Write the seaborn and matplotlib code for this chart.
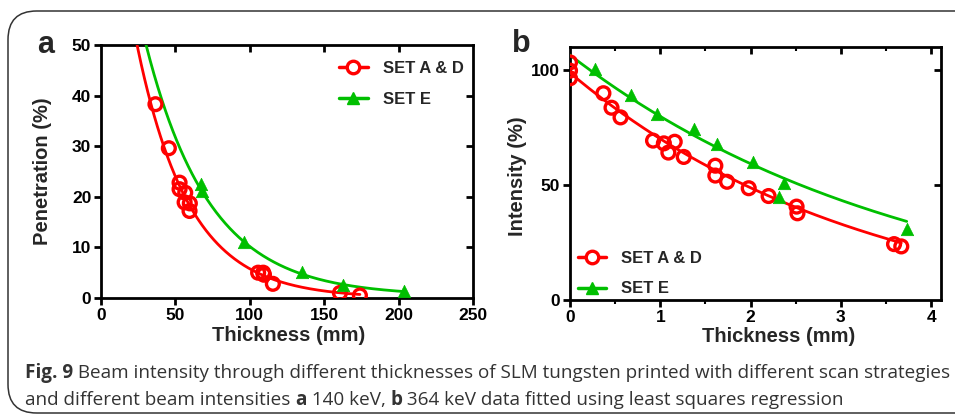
#!/usr/bin/env python3
"""Fig. 9 - beam intensity through SLM tungsten, fitted exponential decays."""

import numpy as np
import pandas as pd
import seaborn as sns
import matplotlib

matplotlib.use("Agg")
import matplotlib.pyplot as plt
import matplotlib.lines as mlines
from matplotlib import font_manager
from matplotlib.lines import Line2D
from matplotlib.patches import FancyBboxPatch

# panel a: 140 keV
a_ad_thick = [36.6, 45.6, 52.8, 52.8, 56.6, 56.2, 59.7, 59.5, 105.6, 109.0, 109.5, 115.5, 160.6, 174.0]
a_ad_pen = [38.3, 29.6, 22.8, 21.5, 20.8, 18.9, 18.7, 17.2, 5.0, 5.0, 4.6, 2.8, 1.0, 0.5]
a_e_thick = [67.4, 68.1, 96.1, 135.4, 162.4, 203.3]
a_e_pen = [22.5, 21.2, 11.1, 5.1, 2.5, 1.4]

# panel b: 364 keV
b_ad_thick = [0.0, 0.0, 0.0, 0.37, 0.46, 0.56, 0.92, 1.04, 1.16, 1.09, 1.26, 1.61, 1.61, 1.74, 1.98,
              2.20, 2.51, 2.52, 3.59, 3.67]
b_ad_int = [103.3, 99.7, 96.4, 89.9, 83.6, 79.4, 69.3, 68.1, 68.8, 64.1, 62.2, 58.4, 54.1, 51.4, 48.6,
            45.2, 40.6, 37.7, 24.3, 23.3]
b_e_thick = [0.28, 0.68, 0.96, 1.37, 1.63, 2.03, 2.31, 2.37, 3.73]
b_e_int = [100.3, 89.1, 80.7, 74.2, 67.8, 60.1, 44.9, 50.7, 30.7]

# one-phase decay fits as drawn in the figure: (span, rate, plateau)
a_ad_fit = (99.8, 0.0285, 0.0)
a_e_fit = (100.5, 0.0233, 0.4)
b_ad_fit = (110.8, 0.30, -12.0)
b_e_fit = (116.5, 0.26, -10.0)

series_labels = ["SET A & D", "SET E"]
RED = "#FF0000"
GREEN = "#00BF00"

caption_1 = ("Beam intensity through different thicknesses of SLM tungsten printed with "
             "different scan strategies")
caption_2a = "and different beam intensities "
caption_2b = " 140 keV, "
caption_2c = " 364 keV data fitted using least squares regression"


def curve_frame(fit, x_end):
    span, rate, plateau = fit
    xs = np.linspace(0.0, x_end, 400)
    return pd.DataFrame({"x": xs, "y": span * np.exp(-rate * xs) + plateau})


sns.set_theme(style="ticks")
plt.rcParams["font.family"] = ["Liberation Sans", "DejaVu Sans"]
plt.rcParams["font.weight"] = "bold"

W, H = 955, 417
fig = plt.figure(figsize=(W / 100, H / 100), dpi=100)

# rounded frame around the figure, running off the right edge
frame = FancyBboxPatch((8 / W, 4 / H), 1.2, (H - 15) / H,
                       boxstyle="round,pad=0,rounding_size=0.03",
                       transform=fig.transFigure, fill=False,
                       edgecolor="#333333", linewidth=1.1, mutation_aspect=W / H)
fig.patches.append(frame)

ax_a = fig.add_axes([101 / W, 1 - 298 / H, 372 / W, 253 / H])
ax_b = fig.add_axes([570 / W, 1 - 300 / H, 371 / W, 253 / H])

mk_circle = dict(marker="o", s=85, facecolor="none", edgecolor=RED, linewidth=2.4, zorder=4)
mk_tri = dict(marker="^", s=80, color=GREEN, edgecolor=GREEN, linewidth=0.5, zorder=4)

panels = [
    (ax_a, a_ad_thick, a_ad_pen, a_ad_fit, a_e_thick, a_e_pen, a_e_fit),
    (ax_b, b_ad_thick, b_ad_int, b_ad_fit, b_e_thick, b_e_int, b_e_fit),
]
for ax, ad_x, ad_y, ad_fit, e_x, e_y, e_fit in panels:
    sns.lineplot(data=curve_frame(ad_fit, max(ad_x)), x="x", y="y", color=RED, linewidth=2.0,
                 ax=ax, zorder=3)
    sns.lineplot(data=curve_frame(e_fit, max(e_x)), x="x", y="y", color=GREEN, linewidth=2.0,
                 ax=ax, zorder=3)
    sns.scatterplot(x=ad_x, y=ad_y, ax=ax, **mk_circle)
    sns.scatterplot(x=e_x, y=e_y, ax=ax, **mk_tri)
    for side in ["left", "bottom", "top", "right"]:
        ax.spines[side].set_visible(True)
        ax.spines[side].set_linewidth(2.0)
        ax.spines[side].set_color("black")


def finish(ax, xlim, ylim, xticks, yticks, xminor=None):
    ax.set_xlim(*xlim)
    ax.set_ylim(*ylim)
    ax.set_xticks(xticks)
    ax.set_yticks(yticks)
    ax.set_xticks(xminor if xminor is not None else [], minor=True)
    ax.set_yticks([], minor=True)
    ax.set_xticklabels([f"{t:g}" for t in xticks], fontweight="bold")
    ax.set_yticklabels([f"{t:g}" for t in yticks], fontweight="bold")
    ax.tick_params(which="both", top=True, right=True, labeltop=False, labelright=False,
                   direction="out", colors="black")
    ax.tick_params(which="major", length=5, width=2, labelsize=12.5, pad=2)
    ax.tick_params(which="minor", length=3, width=1.5)
    # GraphPad style: outward ticks bottom/left, inward mirrored ticks top/right
    for tick in ax.xaxis.get_major_ticks() + ax.xaxis.get_minor_ticks():
        tick.tick2line.set_marker(mlines.TICKDOWN)
    for tick, val in zip(ax.yaxis.get_major_ticks(), yticks):
        tick.tick2line.set_marker(mlines.TICKLEFT)
        if not ylim[0] < val < ylim[1]:
            tick.tick2line.set_visible(False)
    for tick, val in zip(ax.xaxis.get_major_ticks(), xticks):
        if not xlim[0] < val < xlim[1]:
            tick.tick2line.set_visible(False)


finish(ax_a, (0, 250), (0, 50), [0, 50, 100, 150, 200, 250], [0, 10, 20, 30, 40, 50])
finish(ax_b, (0, 4.11), (0, 110), [0, 1, 2, 3, 4], [0, 50, 100],
       xminor=[0.5, 1.5, 2.5, 3.5])

ax_a.set_xlabel("Thickness (mm)", fontsize=14.5, fontweight="bold")
ax_a.set_ylabel("Penetration (%)", fontsize=14.5, fontweight="bold")
ax_b.set_xlabel("Thickness (mm)", fontsize=14.5, fontweight="bold")
ax_b.set_ylabel("Intensity (%)", fontsize=14.5, fontweight="bold")
ax_a.xaxis.set_label_coords(0.504, -0.112)
ax_b.xaxis.set_label_coords(0.561, -0.106)
ax_a.yaxis.set_label_coords(-0.131, 0.5)
ax_b.yaxis.set_label_coords(-0.115, 0.49)

legend_handles = [
    Line2D([], [], color=RED, linewidth=2.5, marker="o", markersize=9, markerfacecolor="white",
           markeredgecolor=RED, markeredgewidth=2.4),
    Line2D([], [], color=GREEN, linewidth=2.5, marker="^", markersize=9, markerfacecolor=GREEN,
           markeredgecolor=GREEN),
]
leg_kw = dict(frameon=False, handlelength=1.7, handletextpad=0.9, labelspacing=0.95,
              prop={"weight": "bold", "size": 12})
ax_a.legend(legend_handles, series_labels, loc="upper left", bbox_to_anchor=(0.6, 0.995), **leg_kw)
ax_b.legend(legend_handles, series_labels, loc="lower left", bbox_to_anchor=(-0.02, -0.045), **leg_kw)

fig.text(37 / W, 1 - 45 / H, "a", fontsize=22, fontweight="bold", va="center", ha="left")
fig.text(512 / W, 1 - 44 / H, "b", fontsize=22, fontweight="bold", va="center", ha="left")

# caption: a narrow face if one is installed, otherwise Open Sans
installed = {f.name for f in font_manager.fontManager.ttflist}
cap_font = [f for f in ["Liberation Sans Narrow", "Open Sans"] if f in installed] + ["DejaVu Sans"]
cap_font = cap_font[:1] + ["DejaVu Sans"]
cap_color = "#333333"
fig.canvas.draw()
r = fig.canvas.get_renderer()

x0 = 25 / W
t1 = fig.text(x0, 1 - 373 / H, "Fig. 9", fontsize=12, fontweight="bold", family=cap_font,
              color=cap_color, va="center")
t1b = fig.text(0, 1 - 373 / H, " " + caption_1, fontsize=12, fontweight="normal",
               family=cap_font, color=cap_color, va="center")
line2 = [(caption_2a, "normal"), ("a", "bold"), (caption_2b, "normal"), ("b", "bold"),
         (caption_2c, "normal")]
t2 = [fig.text(0, 1 - 400 / H, s, fontsize=12, fontweight=w, family=cap_font, color=cap_color,
               va="center") for s, w in line2]

# scale caption so the first line fills the same width as the reference
target = 943 - 25
w = t1.get_window_extent(r).width + t1b.get_window_extent(r).width
scale = target / w
for t in [t1, t1b] + t2:
    t.set_fontsize(12 * scale)
fig.canvas.draw()
t1b.set_x(x0 + t1.get_window_extent(r).width / W)
xpos = x0
for t in t2:
    t.set_x(xpos)
    xpos += t.get_window_extent(r).width / W

fig.savefig("out.png", dpi=100)
